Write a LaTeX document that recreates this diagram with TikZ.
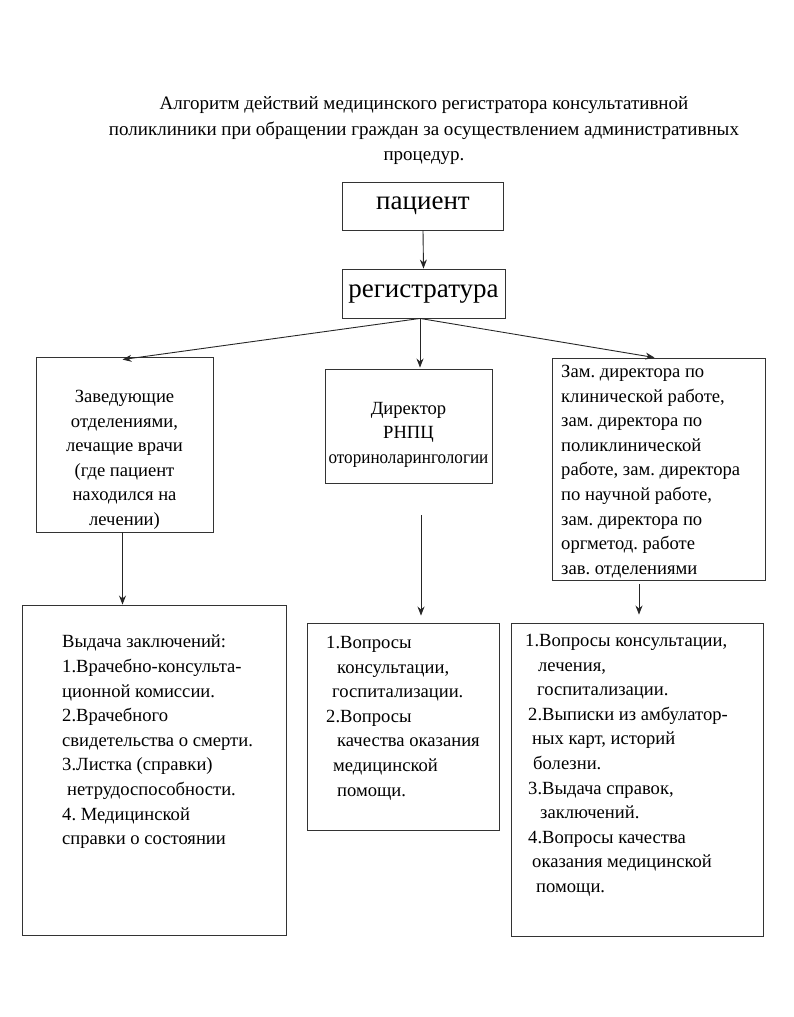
\documentclass[tikz,border=0pt]{standalone}
\usepackage{fontspec}
\setmainfont{Liberation Serif}
\usetikzlibrary{arrows.meta,calc}
\begin{document}
\frenchspacing
\begin{tikzpicture}[x=1pt,y=-1pt,
  box/.style={draw=black!80,line width=0.9pt,inner sep=0pt,minimum width=#1},
  txt/.style={inner sep=0pt,font=\fontsize{18.6}{24.6}\selectfont},
  ttl/.style={inner sep=0pt,font=\fontsize{19}{25.5}\selectfont},
  big/.style={inner sep=0pt,font=\fontsize{27}{30}\selectfont},
  arr/.style={draw=black!85,line width=0.9pt,-{Stealth[length=9pt,width=7pt]}}]
\useasboundingbox (0,0) rectangle (794,1017);
% title
\node[ttl,align=center] (title) at (424,131)
 {Алгоритм действий медицинского регистратора консультативной\\
  поликлиники при обращении граждан за осуществлением административных\\
  процедур.};
% boxes
\node[box=161pt,minimum height=48pt] (pat) at (423,206) {};
\node[big] at (423,206) {пациент};
\node[box=163pt,minimum height=49pt] (reg) at (423.5,293.5) {};
\node[big] at (423.5,294) {регистратура};
\node[box=177pt,minimum height=175pt] (lb) at (124.5,444.5) {};
\node[txt,align=center,anchor=north] at (124.5,390) {Заведующие\\отделениями,\\лечащие врачи\\(где пациент\\находился на\\лечении)};
\node[box=167pt,minimum height=114pt] (mb) at (408.5,426) {};
\node[txt,align=center,anchor=north] at (408.5,402) {Директор\\РНПЦ\\\scalebox{0.92}[1]{оториноларингологии}};
\node[box=213pt,minimum height=222pt] (rb) at (658.5,469) {};
\node[txt,align=left,anchor=north west] at (561,365) {Зам. директора по\\клинической работе,\\зам. директора по\\поликлинической\\работе, зам. директора\\по научной работе,\\зам. директора по\\оргметод. работе\\зав. отделениями};
\node[box=264pt,minimum height=330pt] (lbb) at (154,770) {};
\node[txt,align=left,anchor=north west] at (62,635) {Выдача заключений:\\1.Врачебно-консульта-\\ционной комиссии.\\2.Врачебного\\свидетельства о смерти.\\3.Листка (справки)\\\hspace*{5pt}нетрудоспособности.\\4. Медицинской\\справки о состоянии};
\node[box=192pt,minimum height=207pt] (mbb) at (403,726.5) {};
\node[txt,align=left,anchor=north west] at (326,636) {1.Вопросы\\\hspace*{11pt}консультации,\\\hspace*{6pt}госпитализации.\\2.Вопросы\\\hspace*{11pt}качества оказания\\\hspace*{7pt}медицинской\\\hspace*{11pt}помощи.};
\node[box=252pt,minimum height=313pt] (rbb) at (637,779.5) {};
\node[txt,align=left,anchor=north west] at (525,634) {1.Вопросы консультации,\\\hspace*{13pt}лечения,\\\hspace*{12pt}госпитализации.\\\hspace*{3pt}2.Выписки из амбулатор-\\\hspace*{7pt}ных карт, историй\\\hspace*{8pt}болезни.\\\hspace*{3pt}3.Выдача справок,\\\hspace*{15pt}заключений.\\\hspace*{3pt}4.Вопросы качества\\\hspace*{7pt}оказания медицинской\\\hspace*{11pt}помощи.};
% connectors
\coordinate (rs) at ($(reg.south)+(-3.5,0)$);
\draw[arr] (pat.south) -- (reg.north);
\draw[arr] (rs) -- ($(lb.north)+(-2,3)$);
\draw[arr] (rs) -- ($(mb.north -| rs)+(0,-1)$);
\draw[arr] (rs) -- ($(rb.north)+(-4,0)$);
\draw[arr] ($(lb.south)+(-2,0)$) -- ($(lbb.north -| lb.south)+(-2,0)$);
\coordinate (ms) at (421,515);
\draw[arr] (ms) -- ($(mbb.north -| ms)+(0,-7)$);
\coordinate (rss) at (639,584);
\draw[arr] (rss) -- ($(rbb.north -| rss)+(0,-8)$);
\end{tikzpicture}
\end{document}
